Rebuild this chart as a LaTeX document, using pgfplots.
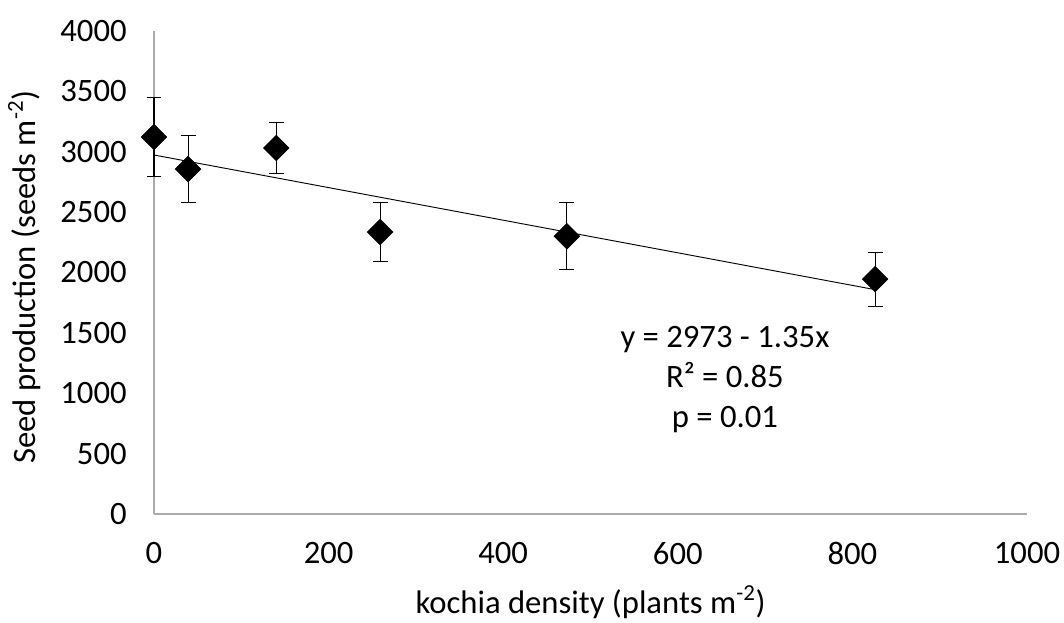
\documentclass[border=0pt]{standalone}
\usepackage{fontspec}
\setmainfont{Carlito}
\usepackage{pgfplots}
\pgfplotsset{compat=1.18}

\begin{document}
\begin{tikzpicture}
\useasboundingbox (-115.5pt,-81.75pt) rectangle (682.5pt,385.5pt);
\begin{axis}[
  at={(0,0)}, anchor=origin,
  scale only axis, width=654.75pt, height=362.25pt,
  xmin=0, xmax=1000, ymin=0, ymax=4000,
  xtick={0,200,...,1000}, ytick={0,500,...,4000},
  axis lines*=left, axis line style={gray!65, line width=0.8pt, -},
  major tick length=0pt,
  tick label style={font=\fontsize{24.5}{28}\selectfont},
  label style={font=\fontsize{24.5}{28}\selectfont},
  /pgf/number format/assume math mode=true,
  /pgf/number format/set thousands separator={},
  xticklabel style={yshift=-17.5pt},
  yticklabel style={xshift=-17pt},
  xlabel={kochia density (plants m\textsuperscript{-2})},
  ylabel={Seed production (seeds m\textsuperscript{-2})},
  xlabel style={at={(axis description cs:0.5,-0.205)}, anchor=base},
  ylabel style={at={(axis description cs:-0.1363,0.49)}, anchor=base, rotate=0},
  clip=false,
]
\addplot[black, line width=0.7pt, no marks] coordinates {(0,2973) (826,1858)};
\addplot+[black, only marks, mark=square*, mark size=6.8pt,
  mark options={rotate=45, fill=black, draw=black},
  error bars/.cd, y dir=both, y explicit,
  error bar style={line width=0.8pt, black},
  error mark=-,
  error mark options={rotate=90, mark size=5.6pt, line width=0.8pt, black}]
coordinates {
(0,3122) +- (0,327)
(39,2857) +- (0,281)
(140,3031) +- (0,211)
(259,2335) +- (0,245)
(473,2300) +- (0,278)
(826,1945) +- (0,223)
};
\node[align=center, font=\fontsize{24.5}{30}\selectfont] at (axis cs:654,1110)
  {y = 2973 - 1.35x\\R² = 0.85\\p = 0.01};
\end{axis}
\end{tikzpicture}
\end{document}
